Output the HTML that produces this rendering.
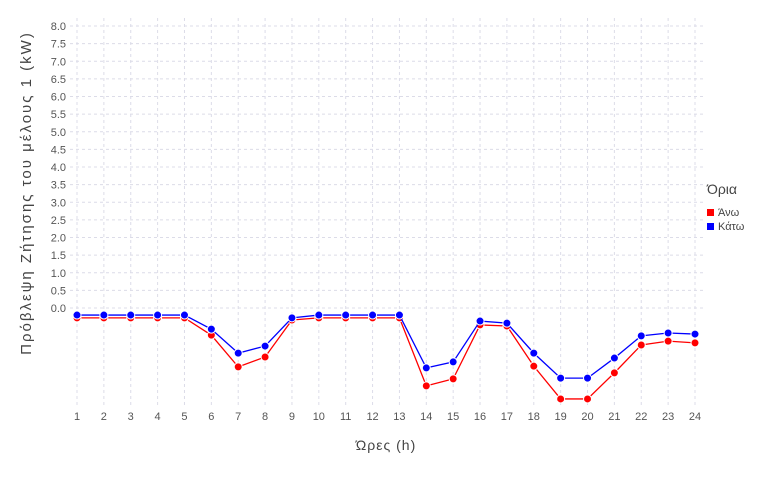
<!DOCTYPE html>
<html><head><meta charset="utf-8"><style>
body{margin:0;background:#fff;}
svg{font-family:"Liberation Sans",sans-serif;}
</style></head><body>
<svg id="chart" width="768" height="480" xmlns="http://www.w3.org/2000/svg">
<g id="grid"></g>
<g id="yticks"></g>
<g id="xticks"></g>
<g id="series"></g>
<text x="386" y="450" text-anchor="middle" font-size="14" letter-spacing="1" fill="#444">Ώρες (h)</text>
<text transform="translate(31,193) rotate(-90)" text-anchor="middle" font-size="15" letter-spacing="2" fill="#444">Πρόβλεψη Ζήτησης του μέλους 1 (kW)</text>
<g>
<text x="707" y="194" font-size="14" fill="#444">Όρια</text>
<g><rect x="707" y="209" width="7" height="7" fill="#ff0000"/><text x="718" y="216" font-size="11" fill="#444">Άνω</text></g>
<g><rect x="707" y="223" width="7" height="7" fill="#0000ff"/><text x="718" y="230" font-size="11" fill="#444">Κάτω</text></g>
</g>
</svg>
<script>
const hours=[1,2,3,4,5,6,7,8,9,10,11,12,13,14,15,16,17,18,19,20,21,22,23,24];
const upper=[-0.28,-0.28,-0.28,-0.28,-0.28,-0.77,-1.67,-1.39,-0.34,-0.28,-0.28,-0.28,-0.28,-2.21,-2.01,-0.48,-0.51,-1.65,-2.58,-2.58,-1.84,-1.05,-0.94,-0.99];
const lower=[-0.2,-0.2,-0.2,-0.2,-0.2,-0.6,-1.28,-1.08,-0.28,-0.2,-0.2,-0.2,-0.2,-1.7,-1.53,-0.37,-0.43,-1.28,-1.99,-1.99,-1.42,-0.79,-0.71,-0.74];
const yTicks=[0,0.5,1,1.5,2,2.5,3,3.5,4,4.5,5,5.5,6,6.5,7,7.5,8];
const NS="http://www.w3.org/2000/svg";
const x=h=>77+(h-1)*(695-77)/23;
const y=v=>308-v*35.25;
function mk(tag,attrs,parent){const e=document.createElementNS(NS,tag);for(const k in attrs)e.setAttribute(k,attrs[k]);parent.appendChild(e);return e;}
const grid=document.getElementById('grid'),yt=document.getElementById('yticks'),xt=document.getElementById('xticks'),ser=document.getElementById('series');
yTicks.forEach(t=>{
  const l=mk('line',{x1:70,x2:705,y1:y(t),y2:y(t),stroke:'#dcdce8','stroke-dasharray':'3,3'},grid);
  
  
  const tx=mk('text',{x:66,y:y(t)+4,'text-anchor':'end','font-size':'11',fill:'#555'},yt);
  tx.textContent=t.toFixed(1);
  
  
});
hours.forEach(h=>{
  const l=mk('line',{x1:x(h),x2:x(h),y1:18,y2:405,stroke:'#dcdce8','stroke-dasharray':'3,3'},grid);
  
  
  const tx=mk('text',{x:x(h),y:420,'text-anchor':'middle','font-size':'11',fill:'#555'},xt);
  tx.textContent=h;
  
  
});
function drawSeries(vals,color,name){
  const p=mk('polyline',{points:vals.map((v,i)=>x(hours[i])+','+y(v)).join(' '),fill:'none',stroke:color,'stroke-width':1.3},ser);
  
  
  vals.forEach((v,i)=>{
    const c=mk('circle',{cx:x(hours[i]),cy:y(v),r:4,fill:color,stroke:'#fff','stroke-width':1},ser);
    
    
  });
}
drawSeries(upper,'#ff0000','upper');
drawSeries(lower,'#0000ff','lower');
</script>
</body></html>
